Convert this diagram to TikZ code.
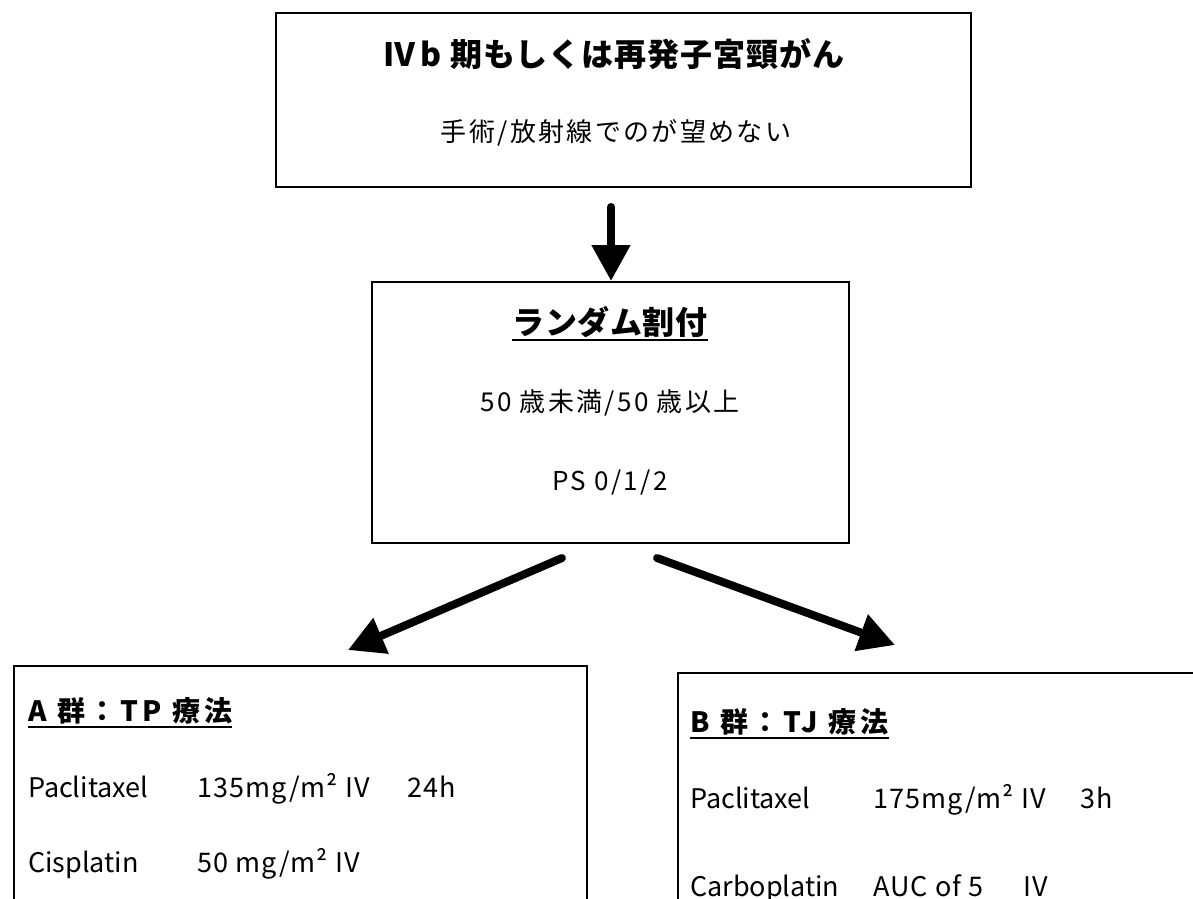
\documentclass[tikz,border=0pt]{standalone}
\usepackage{fontspec}
\setmainfont{Noto Sans CJK JP}
\usetikzlibrary{arrows.meta}
\begin{document}
\begin{tikzpicture}[x=1pt,y=-1pt,
  box/.style={draw, line width=2pt, inner sep=0pt},
  bigarrow/.style={line width=8pt, line cap=round, -{Triangle[length=36pt,width=37pt]}},
  ttl/.style={font=\fontsize{32}{32}\selectfont\bfseries\addfontfeature{LetterSpace=3}, anchor=base, inner sep=0pt},
  ran/.style={font=\fontsize{32}{32}\selectfont\bfseries\addfontfeature{LetterSpace=2}, anchor=base, inner sep=0pt},
  sub/.style={font=\fontsize{26}{26}\selectfont\addfontfeature{LetterSpace=9}, anchor=base, inner sep=0pt},
  grp/.style={font=\fontsize{28}{28}\selectfont\bfseries\addfontfeature{LetterSpace=14}, anchor=base west, inner sep=0pt},
  drug/.style={font=\fontsize{27}{27}\selectfont, anchor=base west, inner sep=0pt},
  val/.style={font=\fontsize{27}{27}\selectfont\addfontfeature{LetterSpace=4}, anchor=base west, inner sep=0pt},
  uline/.style={line width=1.6pt}
]
\useasboundingbox (0,0) rectangle (1193,898);
\fill[white] (0,0) rectangle (1193,898);
% boxes
\node[box, minimum width=695pt, minimum height=174pt] (top) at (623.5,100) {};
\node[box, minimum width=477pt, minimum height=261pt] (mid) at (610.5,412.5) {};
\node[box, minimum width=573pt, minimum height=260pt, anchor=north west] (A) at (13,665) {};
\node[box, minimum width=560pt, minimum height=260pt, anchor=north west] (B) at (677,672) {};
% top texts
\node[ttl] (t1) at (614,66) {Ⅳ\,b 期もしくは再発子宮頸がん};
\node[sub] (t2) at (616,141) {手術/放射線でのが望めない};
% middle texts
\node[ran] (m1) at (610,334) {ランダム割付};
\draw[uline] ([yshift=-6pt]m1.base west) -- ([yshift=-6pt]m1.base east);
\node[sub] (m2) at (610,411) {50 歳未満/50 歳以上};
\node[sub] (m3) at (610,490) {PS 0/1/2};
% group A
\node[grp] (a0) at (28,721) {A 群：TP 療法};
\draw[uline] ([yshift=-6pt]a0.base west) -- ([yshift=-6pt]a0.base east);
\node[drug] (a1) at (28,797) {Paclitaxel};
\node[val] (a2) at (197,797) {135mg/m² IV};
\node[val] (a2b) at (407,797) {24h};
\node[drug] (a3) at (28,872) {Cisplatin};
\node[val] (a4) at (197,872) {50 mg/m² IV};
% group B
\node[grp] (b0) at (690,732) {B 群：TJ 療法};
\draw[uline] ([yshift=-6pt]b0.base west) -- ([yshift=-6pt]b0.base east);
\node[drug] (b1) at (690,808) {Paclitaxel};
\node[val] (b2) at (873,808) {175mg/m² IV};
\node[val] (b2b) at (1080,808) {3h};
\node[drug] (b3) at (690,896) {Carboplatin};
\node[val] (b4) at (873,896) {AUC of 5};
\node[val] (b4b) at (1023,896) {IV};
% arrows
\coordinate (d1) at (611,207);
\coordinate (l1) at (562,558);
\coordinate (l2) at (348,650);
\coordinate (r1) at (657,558);
\coordinate (r2) at (895,645);
\draw[bigarrow] (d1) -- (d1 |- mid.north);
\draw[bigarrow] (l1) -- (l2);
\draw[bigarrow] (r1) -- (r2);
\end{tikzpicture}
\end{document}
